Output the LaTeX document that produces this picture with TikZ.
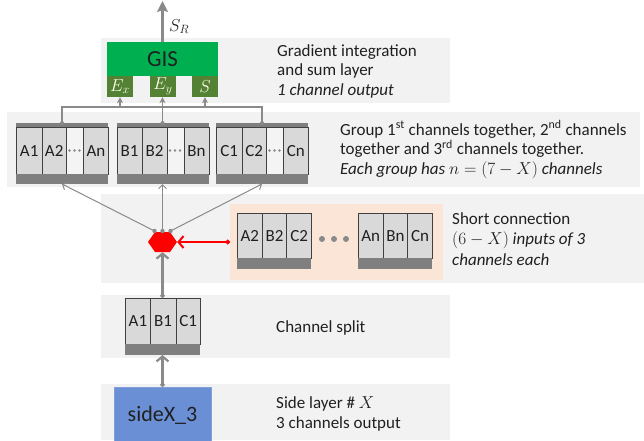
\documentclass[tikz,border=0pt]{standalone}
\usepackage{fontspec}
\setmainfont{Carlito}
\usetikzlibrary{arrows.meta}

\definecolor{band}{HTML}{F2F2F2}
\definecolor{peach}{HTML}{FBE5D6}
\definecolor{cellgray}{HTML}{D9D9D9}
\definecolor{gapfill}{HTML}{F4F4F4}
\definecolor{cellline}{HTML}{404040}
\definecolor{barcol}{HTML}{7F7F7F}
\definecolor{wire}{HTML}{8A8A8A}
\definecolor{gisgreen}{HTML}{00B050}
\definecolor{portgreen}{HTML}{548235}
\definecolor{sideblue}{HTML}{6A8FD4}
\definecolor{ink}{HTML}{202020}

\tikzset{
  every node/.style={font=\fontsize{17}{19.5}\selectfont, text=ink},
  chcell/.style={draw=cellline, fill=cellgray, line width=0.8pt, inner sep=0,
                 anchor=north west, minimum height=#1},
  chcell/.default=47pt,
  gapcell/.style={chcell=#1, fill=gapfill},
  gapcell/.default=47pt,
  holder/.style={inner sep=0, outer sep=0, anchor=north west},
  port/.style={fill=portgreen, text=white!92!yellow, inner sep=0,
               minimum height=21pt, minimum width=26pt},
  txt/.style={anchor=base west, align=left, inner sep=0},
  wireln/.style={draw=wire, line width=1.2pt},
  fanln/.style={draw=wire, line width=1pt, -{Straight Barb[length=4pt,width=8pt]}},
  mainln/.style={draw=wire, line width=2.2pt,
                 {Circle[length=4.5pt]}-{Straight Barb[length=5pt,width=12pt]}},
  portarrow/.style={wireln, -{Stealth[length=6pt,width=6pt]}},
}

\begin{document}
\begin{tikzpicture}[x=1pt,y=-1pt]
\useasboundingbox (0,0) rectangle (644,440);

% layer bands
\fill[band] (101,38)  rectangle (450,103);
\fill[band] (7,112)   rectangle (640,187);
\fill[band] (101,194) rectangle (644,283);
\fill[band] (101,295) rectangle (450,358);
\fill[band] (101,384) rectangle (450,440);

% gradient integration and sum block
\node[holder, fill=gisgreen, minimum width=111pt, minimum height=34pt,
      anchor=north west, font=\fontsize{23}{26}\selectfont] (gis) at (107,42) {GIS};
\node[port] (ex) at (120,86.5) {$E_x$};
\node[port] (ey) at (163,86.5) {$E_y$};
\node[port] (sp) at (205,86.5) {$S$};

\coordinate (out) at (162.5,1);
\draw[draw=wire, line width=2.2pt, -{Stealth[length=11pt,width=11pt,inset=2pt]}]
  (gis.north) -- (out);
\node[txt] (sr) at (169,31) {$S_R$};

% grouped channels
\foreach \g/\x in {A/16, B/116.5, C/216} {
  \fill[barcol] (\x,123) rectangle ++(92,4);
  \node[chcell, minimum width=25.5pt] at (\x,127) {\g1};
  \node[chcell, minimum width=24.5pt] at (\x+25.5,127) {\g2};
  \node[gapcell, minimum width=17pt]  at (\x+50,127) {};
  \node[chcell, minimum width=25pt]   at (\x+67,127) {\g n};
  \fill[barcol] (\x,174) rectangle ++(92,10);
  \foreach \d in {53.5,58.5,63.5} \fill[wire] (\x+\d,150.5) circle (1.3);
  \node[holder, minimum width=92pt, minimum height=61pt] (grp\g) at (\x,123) {};
}

% bus from the groups into the GIS ports
\coordinate (busR) at (262,107);
\draw[wireln] (grpA.north) |- (busR) -- (grpC.north);
\draw[portarrow] (ex.south |- busR) -- (ex.south);
\draw[portarrow] (grpB.north) -- (grpB.north |- ey.south);
\draw[portarrow] (sp.south |- busR) -- (sp.south);
\foreach \g in {A,B,C} \fill[wire] (grp\g.north) circle (2);

% short connection inputs
\node[holder, fill=peach, minimum width=213pt, minimum height=76pt] (short) at (230,204) {};
\foreach \n/\x in {2/237, n/358} {
  \node[chcell=45pt, minimum width=24.7pt] at (\x,213) {A\n};
  \node[chcell=45pt, minimum width=24.7pt] at (\x+24.7,213) {B\n};
  \node[chcell=45pt, minimum width=24.7pt] at (\x+49.4,213) {C\n};
  \fill[barcol] (\x,258) rectangle ++(74.1,11);
}
\foreach \d in {322,334,346} \fill[wire] (\d,239) circle (3);

% concatenation node
\node[inner sep=0, minimum width=29pt, minimum height=20pt] (hex) at (162.5,242) {};
\fill[red] (148,242) -- (155,232) -- (170,232) -- (177,242) -- (170,252) -- (155,252) -- cycle;
\coordinate (hA) at (154.5,231);
\coordinate (hB) at (162.5,231);
\coordinate (hC) at (170.5,231);
\draw[fanln] (hA) -- (grpA.south);
\draw[fanln] (hB) -- (grpB.south);
\draw[fanln] (hC) -- (grpC.south);
\foreach \c in {hA,hB,hC} \fill[wire] (\c) circle (2.2);

\draw[red, line width=2pt, {Circle[length=4.5pt]}-{Straight Barb[length=5pt,width=12pt]}]
  (short.west) -- (hex.east);

% channel split
\node[chcell=46pt, minimum width=25pt] at (125,298) {A1};
\node[chcell=46pt, minimum width=25.5pt] at (150,298) {B1};
\node[chcell=46pt, minimum width=24.5pt] at (175.5,298) {C1};
\fill[barcol] (125,344) rectangle (200,355);
\node[holder, minimum width=75pt, minimum height=57pt] (split) at (125,298) {};
\draw[mainln] (split.north) -- (hex.south);

% side output
\node[holder, fill=sideblue, draw=sideblue!85!white, line width=0.8pt,
      minimum width=97pt, minimum height=56pt,
      font=\fontsize{22}{24}\selectfont] (side) at (114,387) {sideX\_3};
\draw[mainln] (side.north) -- (split.south);

% layer descriptions (anchored at the baseline of the last line)
\node[txt] (t1) at (277,95) {Gradient integration\\and sum layer\\\textit{1 channel output}};
\node[txt] (t2) at (340,174) {Group 1\textsuperscript{st} channels together, 2\textsuperscript{nd} channels\\together and 3\textsuperscript{rd} channels together.\\\textit{Each group has} $n=(7-X)$ \textit{channels}};
\node[txt, font=\fontsize{17}{20.5}\selectfont] (t3) at (452,265) {Short connection\\$(6-X)$ \textit{inputs of 3}\\\textit{channels each}};
\node[txt] (t4) at (276,332) {Channel split};
\node[txt] (t5) at (276,428) {Side layer \# $X$\\3 channels output};
\end{tikzpicture}
\end{document}
